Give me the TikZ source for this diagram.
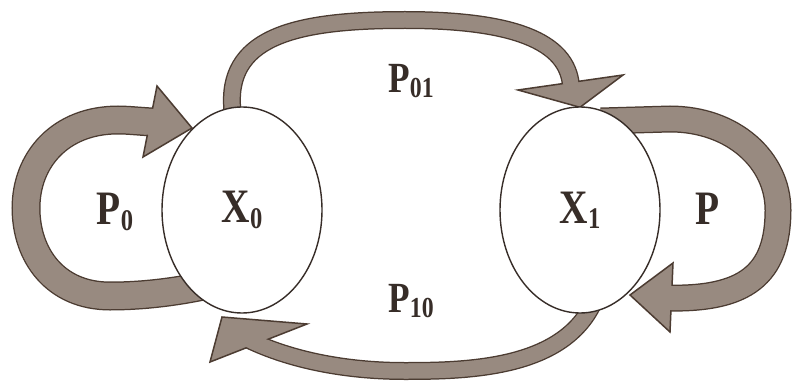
\documentclass[tikz,border=0pt]{standalone}
\usepackage{fontspec}
\setmainfont{Liberation Serif}
\newfontfamily\lblfont[FakeStretch=0.82]{Liberation Serif}
\usetikzlibrary{shapes.geometric,calc}
\pgfdeclarelayer{bg}
\pgfsetlayers{bg,main}
\definecolor{bandout}{RGB}{76,60,50}
\definecolor{bandin}{RGB}{152,138,128}
\definecolor{ink}{RGB}{55,45,40}
\newcommand{\biglbl}[2]{{\lblfont\bfseries\fontsize{48}{48}\selectfont #1\raisebox{-0.11em}{\fontsize{30}{30}\selectfont #2}}}
\newcommand{\midlbl}[2]{{\lblfont\bfseries\fontsize{43}{43}\selectfont #1\raisebox{-0.12em}{\fontsize{29}{29}\selectfont #2}}}
\newcommand{\drawband}[3]{%
  \draw[bandout, line width=#2+3pt] #1;
  \draw[bandin, line width=#2] #1;
  \draw[fill=bandin, draw=bandout, line width=1.5pt] #3;
  \draw[bandin, line width=#2] #1;
}
\begin{document}
\begin{tikzpicture}[x=1pt,y=-1pt,
  state/.style={ellipse, draw=ink, line width=1.4pt, fill=white,
    minimum width=160pt, minimum height=206pt, inner sep=0pt, text=ink},
  txt/.style={text=ink, inner sep=0pt}]
\begin{pgfonlayer}{bg}
\fill[white] (0,0) rectangle (792,385);
\end{pgfonlayer}
\path[use as bounding box] (0,0) rectangle (792,385);

% states
\node[state] (X0) at (242,210) {\biglbl{X}{0}};
\node[state] (X1) at (580,210) {\biglbl{X}{1}};

% labels
\node[txt] (P0) at (115,212) {\biglbl{P}{0}};
\node[txt] (P) at (708,211) {\biglbl{P}{}};
\node[txt] (P01) at (411,81) {\midlbl{P}{01}};
\node[txt] (P10) at (411,301) {\midlbl{P}{10}};

\begin{pgfonlayer}{bg}
% X0 -> X1 (top)
\drawband{($(X0.north)+(-10,23)$) -- ($(X0.north)+(-10,-2)$) .. controls (229,35) and (300,20) .. (405,20) .. controls (510,20) and (568,40) .. ($(X1.north)+(-9,-20)$)}{15pt}%
  {(518,90) -- (623,75) -- ($(X1.north)+(0,1)$) -- cycle}
% X1 -> X0 (bottom)
\drawband{($(X1.south)+(12,-8)$) .. controls (560,368) and (470,371) .. (405,371) .. controls (340,371) and (285,358) .. (245,338)}{15pt}%
  {(222,317) -- (307,324) -- (210,362) -- cycle}
% X0 -> X0 (left loop)
\drawband{($(X0.west)+(68,70)$) .. controls (190,290) and (150,296) .. (110,296) .. controls (55,296) and (26,255) .. (26,208) .. controls (26,160) and (60,120) .. (118,120) .. controls (130,120) and (145,122) .. (156,122)}{26pt}%
  {(157,86) -- (192,128) -- (143,157) -- cycle}
% X1 -> X1 (right loop)
\drawband{($(X1.east)+(-60,-89)$) -- (670,119) .. controls (733,119) and (778,160) .. (778,210) .. controls (778,275) and (745,300) .. (666,298)}{24pt}%
  {(673,263) -- (630,295) -- (670,332) -- cycle}
\end{pgfonlayer}
\end{tikzpicture}
\end{document}
